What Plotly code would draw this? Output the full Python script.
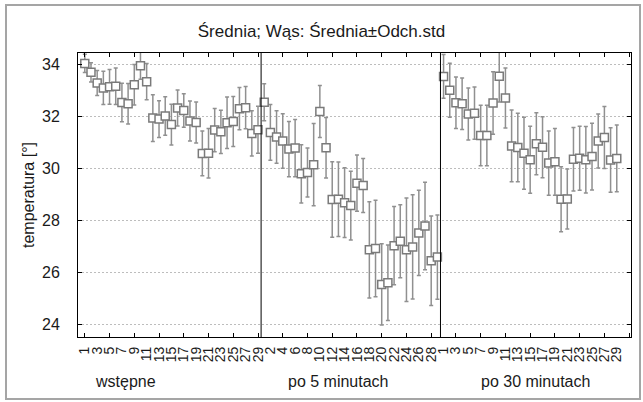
import plotly.graph_objects as go

# ---- data ----
groups = ["wstępne", "po 5 minutach", "po 30 minutach"]
categories = [str(i) for i in range(1, 30)]

wstepne_mean = [34.03, 33.69, 33.28, 33.09, 33.13, 33.15, 32.53, 32.48, 33.21, 33.94,
                33.33, 31.93, 31.89, 32.01, 31.68, 32.32, 32.22, 31.82, 31.76, 30.57,
                30.58, 31.47, 31.40, 31.75, 31.80, 32.29, 32.33, 31.34, 31.48]
wstepne_sd = [0.35, 0.37, 0.48, 0.64, 0.67, 0.70, 0.74, 0.78, 0.78, 0.52,
              0.70, 0.90, 0.71, 0.74, 0.78, 0.69, 0.64, 0.77, 0.79, 0.86,
              0.95, 0.83, 0.83, 0.99, 0.96, 0.81, 0.81, 0.87, 0.90]

po5_mean = [32.54, 31.38, 31.20, 31.05, 30.74, 30.78, 29.79, 29.84, 30.14, 32.18,
            30.79, 28.80, 28.81, 28.68, 28.57, 29.43, 29.34, 26.87, 26.92, 25.54,
            25.60, 27.03, 27.20, 26.87, 26.98, 27.52, 27.78, 26.45, 26.59]
po5_sd = [0.71, 1.07, 1.01, 1.05, 1.06, 1.10, 1.12, 0.94, 1.58, 1.00,
          1.16, 1.45, 1.43, 1.34, 1.32, 1.08, 1.04, 1.85, 1.85, 1.56,
          1.45, 1.50, 1.40, 1.99, 2.00, 1.64, 1.68, 1.72, 1.62]

po30_mean = [33.53, 33.00, 32.52, 32.48, 32.09, 32.12, 31.26, 31.26, 32.51, 33.54,
             32.70, 30.86, 30.80, 30.58, 30.33, 30.94, 30.81, 30.20, 30.25, 28.81,
             28.82, 30.35, 30.39, 30.33, 30.45, 31.05, 31.18, 30.32, 30.38]
po30_sd = [0.84, 1.04, 0.99, 0.99, 1.00, 1.00, 1.16, 1.16, 1.20, 0.99,
           1.15, 1.38, 1.32, 1.38, 1.29, 1.19, 1.17, 1.23, 1.28, 1.25,
           1.15, 1.22, 1.23, 1.28, 1.28, 1.04, 1.19, 1.24, 1.28]

y_ticks = [24, 26, 28, 30, 32, 34]

series_means = [wstepne_mean, po5_mean, po30_mean]
series_sds = [wstepne_sd, po5_sd, po30_sd]

# ---- build one continuous category axis ----
pos, means, sds, labels = [], [], [], []
bounds = []
k = 0
for m, s in zip(series_means, series_sds):
    for i, (mv, sv) in enumerate(zip(m, s)):
        pos.append(k)
        means.append(mv)
        sds.append(sv)
        labels.append(categories[i])
        k += 1
    bounds.append(k - 0.5)
bounds = bounds[:-1]
n = k

GRAY = "#909090"
FONT = "Liberation Sans, Arial, sans-serif"
TXT = "#1a1a1a"

fig = go.Figure()
fig.add_trace(go.Scatter(
    x=pos, y=means, mode="markers",
    marker=dict(symbol="square", size=8, color="white",
                line=dict(color="#7a7a7a", width=1.5)),
    error_y=dict(type="data", array=sds, visible=True,
                 color=GRAY, thickness=1.5, width=2),
    showlegend=False, hoverinfo="skip",
))
# helper trace for the tick-mark axis
fig.add_trace(go.Scatter(x=[], y=[], xaxis="x2", yaxis="y", showlegend=False))

xr = [-1.1, n + 1.3]

L, R, T, B = 78, 12, 53, 65
PW, PH = 643 - L - R, 402 - T - B

fig.update_layout(
    width=643, height=402,
    margin=dict(l=L, r=R, t=T, b=B, autoexpand=False),
    paper_bgcolor="white", plot_bgcolor="white",
    font=dict(family=FONT, size=14, color=TXT),
    title=dict(text="Średnia; Wąs: Średnia±Odch.std", x=0.5, xanchor="center",
               y=1 - 31 / 402, yanchor="middle", yref="container",
               font=dict(size=17, family=FONT, color=TXT)),
    xaxis=dict(
        range=xr, tickmode="array",
        tickvals=pos[::2], ticktext=labels[::2],
        tickangle=-90, ticks="", showgrid=False, zeroline=False,
        showline=True, linecolor="black", linewidth=1, mirror=True,
        tickfont=dict(size=14, family=FONT, color=TXT),
        ticklabelstandoff=3,
    ),
    xaxis2=dict(
        overlaying="x", matches="x", range=xr,
        tickmode="linear", tick0=0, dtick=4,
        ticks="inside", ticklen=4, tickcolor="black", tickwidth=1,
        showticklabels=False, showgrid=False, zeroline=False,
        showline=False, mirror="ticks", side="bottom",
    ),
    yaxis=dict(
        range=[23.52, 34.43], tickmode="array", tickvals=y_ticks,
        ticks="inside", ticklen=4, tickcolor="black",
        showline=True, linecolor="black", linewidth=1, mirror="ticks",
        showgrid=True, gridcolor="#bdbdbd", griddash="2px,2px", gridwidth=1,
        zeroline=False,
        tickfont=dict(size=16, family=FONT, color=TXT),
        ticklabelstandoff=14,
    ),
)

shapes = []
for b in bounds:
    shapes.append(dict(type="line", xref="x", yref="paper", x0=b, x1=b, y0=0, y1=1,
                       line=dict(color="black", width=1)))
# outer frame of the picture
shapes.append(dict(type="rect", xref="paper", yref="paper",
                   x0=(6 - L) / PW, x1=(640 - L) / PW,
                   y0=(402 - B - 399) / PH, y1=(402 - B - 5) / PH,
                   line=dict(color="#a5a5a5", width=2), fillcolor="rgba(0,0,0,0)"))
fig.update_layout(shapes=shapes)

ann = []
for g, px in zip(groups, [125, 338, 535]):
    ann.append(dict(text=g, xref="paper", yref="paper", x=(px - L) / PW,
                    y=(402 - B - 381) / PH, xanchor="center", yanchor="middle",
                    showarrow=False, font=dict(size=16, family=FONT, color=TXT)))
ann.append(dict(text="temperatura [°]", xref="paper", yref="paper",
                x=(28 - L) / PW, y=0.5, textangle=-90, xanchor="center",
                yanchor="middle", showarrow=False,
                font=dict(size=16, family=FONT, color=TXT)))
fig.update_layout(annotations=ann)

fig.write_html("out.html", config={"displayModeBar": False},
               post_script="document.body.style.margin='0';document.body.style.overflow='hidden';")
